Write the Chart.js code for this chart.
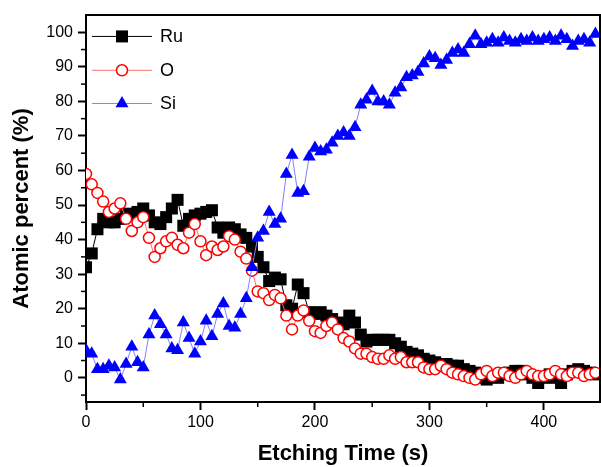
<!DOCTYPE html>
<html>
<head>
<meta charset="utf-8">
<script src="https://cdn.jsdelivr.net/npm/chart.js@4/dist/chart.umd.min.js"></script>
<style>
  html, body { margin: 0; padding: 0; background: #fff; }
  #wrap { width: 601px; height: 467px; position: relative; }
</style>
</head>
<body>
<div id="wrap"><canvas id="chart" width="601" height="467"></canvas></div>
<script>
// etching times (s)
const times = [0, 5, 10, 15, 20, 25, 30, 35, 40, 45, 50, 55, 60, 65, 70, 75, 80, 85, 90, 95,
  100, 105, 110, 115, 120, 125, 130, 135, 140, 145, 150, 155, 160, 165, 170, 175, 180, 185, 190, 195,
  200, 205, 210, 215, 220, 225, 230, 235, 240, 245, 250, 255, 260, 265, 270, 275, 280, 285, 290, 295,
  300, 305, 310, 315, 320, 325, 330, 335, 340, 345, 350, 355, 360, 365, 370, 375, 380, 385, 390, 395,
  400, 405, 410, 415, 420, 425, 430, 435, 440, 445];

const ru = [32, 36, 43, 46, 45, 45, 46, 47.5, 47, 48, 49, 47, 45, 44.5, 46.5, 49, 51.5, 44, 46, 47,
  47.5, 48, 48.5, 43.5, 42, 43.5, 43, 41.5, 40.5, 38, 35, 32, 28, 29, 28.5, 21, 20, 27, 24.5, 19,
  18.5, 19, 18, 17, 16, 15.5, 18, 16, 12.5, 10.5, 11, 11, 11, 11, 10, 9, 7.5, 7, 6.5, 5.5,
  5, 4.5, 4, 4, 3.5, 3.5, 2.5, 2, 1.5, 0, -0.5, 0.5, 0, 1, 1.5, 2, 2, 1, 0, -1.5,
  0, 1, 0, -1.5, 1, 2, 2.5, 2, 1.5, 1];

const oxy = [59, 56, 53.5, 51, 48, 49, 50.5, 46, 42.5, 45, 46.5, 40.5, 35, 37.5, 39.5, 40.5, 38.5, 37.5, 42, 44.5,
  39.5, 35.5, 38, 37, 38, 41, 40, 36.5, 34.5, 31, 25, 24.5, 22.5, 24, 23, 18, 14, 18, 19.5, 16.5,
  13.5, 13, 15, 16, 14, 11.5, 10.5, 8.5, 7, 7, 6, 5.5, 5.5, 6.5, 5.5, 6, 4.5, 4.5, 4.5, 3,
  2.5, 2.5, 3.5, 2.5, 1.5, 1, 0.5, 0, -0.5, 1, 2, 0.5, 1.5, 1.5, 0.5, 0, 1, 2, 1, 0.5,
  0.5, 1, 2, 1, 0.5, 1.5, 1.5, 0.5, 1, 1.5];

const si = [8, 7, 2.5, 2.5, 3.5, 3, -0.5, 4, 9, 4.5, 3, 12.5, 18, 15.5, 12.5, 8.5, 8, 16, 11.5, 7,
  10.5, 16.5, 12, 18.5, 21.5, 15, 14.5, 18.5, 23, 32, 40.5, 42.5, 48, 44.5, 46, 59, 64.5, 53.5, 54, 64,
  66.5, 65.5, 66, 68, 70, 71, 70, 72.5, 79, 80.5, 83, 80, 80, 79, 82.5, 84, 87, 87.5, 88.5, 91,
  93, 92.5, 90.5, 92, 94, 95, 94, 96.5, 99, 96.5, 97, 98, 97, 98.5, 97.5, 97, 98, 97.5, 98.5, 97.5,
  98, 98.5, 97.5, 99, 98, 96, 97.5, 98, 97, 99.5];

const xTicks = [0, 100, 200, 300, 400];
const yTicks = [0, 10, 20, 30, 40, 50, 60, 70, 80, 90, 100];

const toXY = (vals) => vals.map((v, i) => ({ x: times[i], y: v }));

// minor ticks, frame and legend
const extras = {
  id: "extras",
  afterLayout(chart) {
    // let the plot run to the right edge of the canvas
    const x = chart.scales.x;
    const r = chart.width - 1;
    chart.chartArea.right = r;
    chart.chartArea.width = r - chart.chartArea.left;
    x.right = r;
    x.width = r - x.left;
    x.configure();
  },
  afterDraw(chart) {
    const ctx = chart.ctx;
    const xs = chart.scales.x, ys = chart.scales.y;
    const a = chart.chartArea;
    ctx.save();
    ctx.strokeStyle = "#000";
    ctx.lineWidth = 2;
    // frame top + right
    ctx.beginPath();
    ctx.moveTo(a.left, a.top);
    ctx.lineTo(a.right, a.top);
    ctx.lineTo(a.right, a.bottom);
    ctx.stroke();
    // minor ticks
    ctx.lineWidth = 1.5;
    for (let v = 50; v < 449; v += 100) {
      const px = xs.getPixelForValue(v);
      ctx.beginPath(); ctx.moveTo(px, a.bottom); ctx.lineTo(px, a.bottom + 5); ctx.stroke();
    }
    for (let v = -5; v < 105; v += 10) {
      const py = ys.getPixelForValue(v);
      ctx.beginPath(); ctx.moveTo(a.left, py); ctx.lineTo(a.left - 5, py); ctx.stroke();
    }
    // legend
    const legendY = [98.8, 89, 79.4];
    chart.data.datasets.forEach((ds, i) => {
      const y = ys.getPixelForValue(legendY[i]);
      ctx.strokeStyle = ds.borderColor;
      ctx.lineWidth = 1;
      ctx.beginPath(); ctx.moveTo(92, y); ctx.lineTo(152, y); ctx.stroke();
      ctx.fillStyle = ds.pointBackgroundColor;
      ctx.strokeStyle = ds.pointBorderColor;
      ctx.lineWidth = ds.pointBorderWidth || 0.01;
      Chart.helpers.drawPoint(ctx, {
        pointStyle: ds.pointStyle, radius: ds.pointRadius,
        borderWidth: ds.pointBorderWidth, rotation: 0
      }, 122, y);
      ctx.fillStyle = "#000";
      ctx.font = "18px 'Liberation Sans', Arial, sans-serif";
      ctx.textBaseline = "middle";
      ctx.textAlign = "left";
      ctx.fillText(ds.label, 160, y + 1);
    });
    ctx.restore();
  }
};

new Chart(document.getElementById("chart"), {
  type: "line",
  data: {
    datasets: [
      {
        label: "Ru", data: toXY(ru), order: 2,
        borderColor: "#000", borderWidth: 1,
        pointStyle: "rect", pointRadius: 8.5, pointBorderWidth: 0,
        pointBackgroundColor: "#000", pointBorderColor: "#000"
      },
      {
        label: "O", data: toXY(oxy), order: 1,
        borderColor: "#ff7070", borderWidth: 1,
        pointStyle: "circle", pointRadius: 5.5, pointBorderWidth: 1.5,
        pointBackgroundColor: "#fff", pointBorderColor: "#ff0000"
      },
      {
        label: "Si", data: toXY(si), order: 0,
        borderColor: "#8080ff", borderWidth: 1,
        pointStyle: "triangle", pointRadius: 7.5, pointBorderWidth: 0,
        pointBackgroundColor: "#0000ff", pointBorderColor: "#0000ff"
      }
    ]
  },
  options: {
    responsive: false,
    animation: false,
    layout: { padding: { top: 15, right: 1, left: 0, bottom: 0 } },
    plugins: { legend: { display: false }, tooltip: { enabled: false } },
    elements: { line: { tension: 0 } },
    scales: {
      x: {
        type: "linear", min: 0, max: 449,
        afterFit: (s) => { s.height = 65; s.paddingLeft = 0; s.paddingRight = 0; },
        afterBuildTicks: (s) => { s.ticks = xTicks.map((v) => ({ value: v })); },
        border: { display: true, color: "#000", width: 2 },
        grid: { drawOnChartArea: false, drawTicks: true, tickLength: 8, tickColor: "#000", tickWidth: 2 },
        ticks: { color: "#000", padding: 3, maxRotation: 0, font: { family: "'Liberation Sans', Arial, sans-serif", size: 16 } },
        title: { display: true, text: "Etching Time (s)", color: "#000", padding: { top: 13, bottom: 0 },
          font: { family: "'Liberation Sans', Arial, sans-serif", size: 22, weight: "bold" } }
      },
      y: {
        type: "linear", min: -7, max: 105,
        afterFit: (s) => { s.width = 86; },
        afterBuildTicks: (s) => { s.ticks = yTicks.map((v) => ({ value: v })); },
        border: { display: true, color: "#000", width: 2 },
        grid: { drawOnChartArea: false, drawTicks: true, tickLength: 8, tickColor: "#000", tickWidth: 2 },
        ticks: { color: "#000", padding: 5, font: { family: "'Liberation Sans', Arial, sans-serif", size: 16 } },
        title: { display: true, text: "Atomic percent (%)", color: "#000", padding: { top: 9, bottom: 0 },
          font: { family: "'Liberation Sans', Arial, sans-serif", size: 22, weight: "bold" } }
      }
    }
  },
  plugins: [extras]
});
</script>
</body>
</html>
